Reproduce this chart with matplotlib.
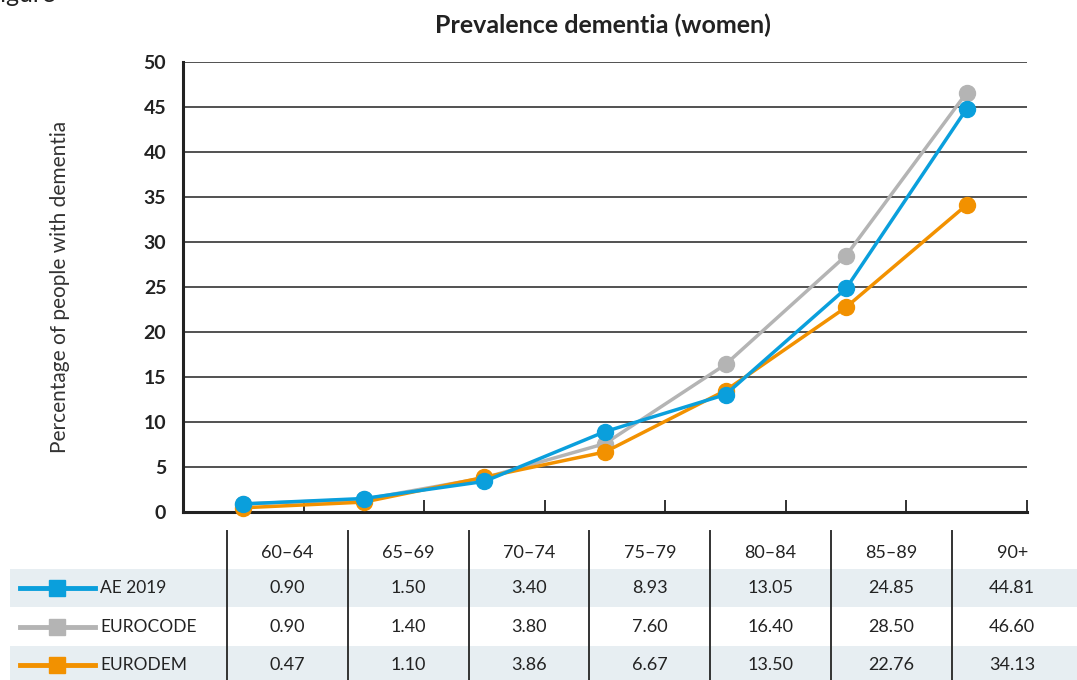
import matplotlib
matplotlib.use("Agg")
import matplotlib.pyplot as plt
from matplotlib.lines import Line2D
from matplotlib.patches import Rectangle

plt.rcParams["font.family"] = ["Lato", "DejaVu Sans"]

# ── Data ──────────────────────────────────────────────────────────────
AGE_GROUPS = ["60–64", "65–69", "70–74", "75–79", "80–84", "85–89", "90+"]
SERIES = ["AE 2019", "EUROCODE", "EURODEM"]
AE2019 = [0.90, 1.50, 3.40, 8.93, 13.05, 24.85, 44.81]
EUROCODE = [0.90, 1.40, 3.80, 7.60, 16.40, 28.50, 46.60]
EURODEM = [0.47, 1.10, 3.86, 6.67, 13.50, 22.76, 34.13]
Y_TICKS = [0, 5, 10, 15, 20, 25, 30, 35, 40, 45, 50]

# ── Palette ───────────────────────────────────────────────────────────
BLUE = "#0a9fdc"
GRAY = "#b4b4b4"
ORANGE = "#f29100"
DARK = "#222222"
SHADE = "#e7eef2"

W, H = 1077, 680
fig = plt.figure(figsize=(W / 100, H / 100), dpi=100, facecolor="white")

# ── chart axes ────────────────────────────────────────────────────────
ax = fig.add_axes([183 / W, 1 - 512 / H, (1027 - 183) / W, (512 - 62) / H])
x = list(range(len(AGE_GROUPS)))
values = {"AE 2019": AE2019, "EUROCODE": EUROCODE, "EURODEM": EURODEM}
colors = {"AE 2019": BLUE, "EUROCODE": GRAY, "EURODEM": ORANGE}
zorders = {"EUROCODE": 3, "EURODEM": 4, "AE 2019": 5}
for name in SERIES:
    ax.plot(x, values[name], color=colors[name], lw=2.5, marker="o",
            markersize=11.5, zorder=zorders[name], clip_on=False)

ax.set_xlim(-0.5, len(AGE_GROUPS) - 0.5)
ax.set_ylim(0, 50)
ax.set_yticks(Y_TICKS)
ax.set_yticklabels([str(t) for t in Y_TICKS], fontsize=14, fontweight="bold",
                   color=DARK)
ax.tick_params(axis="y", length=0, pad=12)
ax.set_xticks([i + 0.5 for i in x])
ax.set_xticklabels([])
ax.tick_params(axis="x", direction="in", length=9, width=1.3, color=DARK)
for t in Y_TICKS[1:]:
    ax.axhline(t, color=DARK, lw=1.1, zorder=1)
for s in ["top", "right"]:
    ax.spines[s].set_visible(False)
for s in ["left", "bottom"]:
    ax.spines[s].set_linewidth(2.2)
    ax.spines[s].set_color(DARK)

ax.set_ylabel("Percentage of people with dementia", fontsize=15, color="#333333")
ax.yaxis.set_label_coords(-0.134, 0.5)
fig.text(603 / W, 1 - 25 / H, "Prevalence dementia (women)", ha="center",
         va="center", fontsize=18, fontweight="bold", color=DARK)
fig.text(-0.012, 1.008, "Figure", ha="left", va="center", fontsize=18,
         color=DARK)

# ── data table below ──────────────────────────────────────────────────
tab = fig.add_axes([0, 0, 1, 1], zorder=-1)
tab.set_xlim(0, W)
tab.set_ylim(H, 0)
tab.axis("off")

col_left = 227
col_w = 120.8
row_y = [588, 627, 665]
row_h = 38.5
for i, y in enumerate(row_y):
    if i % 2 == 0:
        tab.add_patch(Rectangle((10, y - row_h / 2), W - 10, row_h,
                                facecolor=SHADE, edgecolor="none", zorder=0))

for j in range(len(AGE_GROUPS)):
    xl = col_left + j * col_w
    tab.plot([xl, xl], [531, H], color="#333333", lw=1.4, zorder=2)
    tab.text(xl + col_w / 2, 553, AGE_GROUPS[j], ha="center", va="center",
             fontsize=13, color=DARK)

for i, name in enumerate(SERIES):
    y = row_y[i]
    tab.add_line(Line2D([20, 95], [y, y], color=colors[name], lw=3.5,
                        zorder=3))
    tab.add_line(Line2D([57], [y], color=colors[name], marker="s",
                        markersize=12, lw=0, zorder=3))
    tab.text(100, y, name, ha="left", va="center", fontsize=12.5, color=DARK)
    for j, v in enumerate(values[name]):
        tab.text(col_left + j * col_w + col_w / 2, y, f"{v:.2f}", ha="center",
                 va="center", fontsize=13, color=DARK)

fig.savefig("out.png", dpi=100, facecolor="white")
